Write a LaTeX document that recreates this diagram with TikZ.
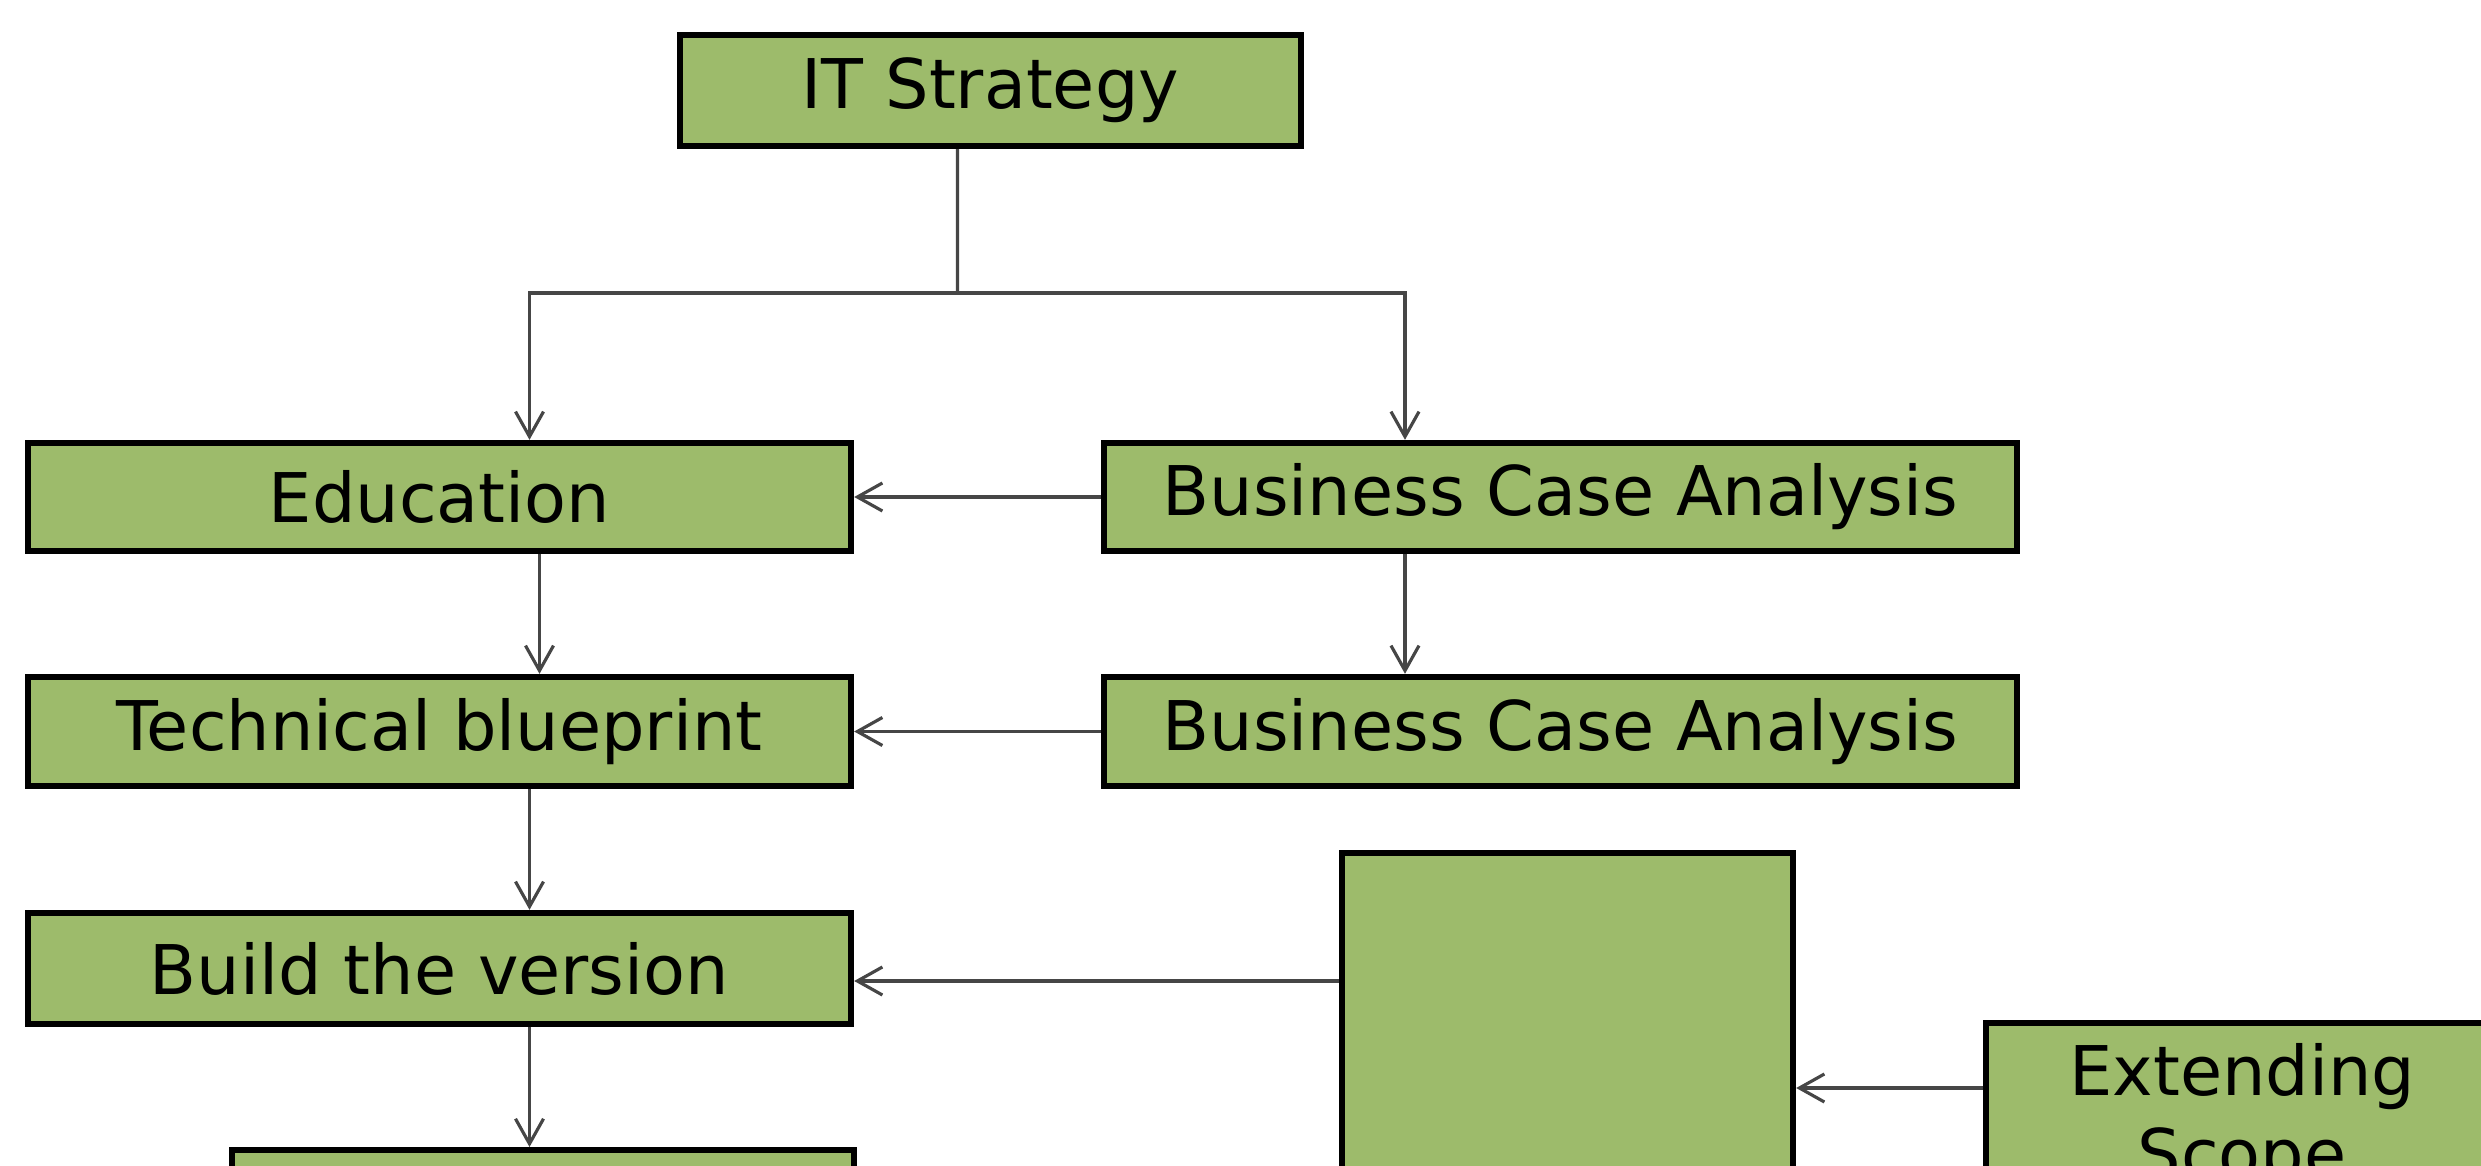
\documentclass[tikz,border=0pt]{standalone}
\usepackage{fontspec}
\setmainfont{DejaVu Sans}
\usetikzlibrary{arrows.meta}
\definecolor{boxgreen}{RGB}{157,187,107}
\definecolor{linkgray}{RGB}{70,70,70}

\begin{document}
\begin{tikzpicture}[
    box/.style={draw=black, line width=1.8pt, fill=boxgreen, inner sep=0pt,
                font=\fontsize{19.5}{23.6}\selectfont, align=center},
    plain/.style={draw=linkgray, line width=0.9pt},
    link/.style={plain, -{Straight Barb[length=2.5mm,width=2.8mm]}}
]
    % Page frame
    \useasboundingbox (0,0) rectangle (24.81,-11.66);
    \clip (0,0) rectangle (24.81,-11.66);

    % Top level
    \node[box, minimum width=6.21cm, minimum height=1.11cm] (it) at (9.905,-0.905) {IT Strategy};

    % Left column
    \node[box, minimum width=8.23cm, minimum height=1.08cm] (edu) at (4.395,-4.97) {Education};
    \node[box, minimum width=8.23cm, minimum height=1.09cm] (tb) at (4.395,-7.315) {Technical blueprint};
    \node[box, minimum width=8.23cm, minimum height=1.11cm] (build) at (4.395,-9.685) {Build the version};
    \node[box, minimum width=6.22cm, minimum height=1.1cm, anchor=north west] (last) at (2.29,-11.47) {};

    % Right column
    \node[box, minimum width=9.13cm, minimum height=1.08cm] (bca1) at (15.605,-4.97) {Business Case Analysis};
    \node[box, minimum width=9.13cm, minimum height=1.09cm] (bca2) at (15.605,-7.315) {Business Case Analysis};
    \node[box, minimum width=4.51cm, minimum height=5.5cm, anchor=north] (big) at (15.675,-8.5) {};
    \node[box, minimum width=5.12cm, inner ysep=2mm, anchor=north west] (ext) at (19.83,-10.2) {Extending\\Scope};

    % Split below the strategy
    \coordinate (fork) at (9.575,-2.93);
    \draw[plain] ([xshift=-3.3mm]it.south) -- (fork);
    \draw[link] (fork) -| ([xshift=9mm]edu.north);
    \draw[link] (fork) -| ([xshift=-15.55mm]bca1.north);

    % Downward steps
    \foreach \a/\b/\s in {edu/tb/10mm, tb/build/9mm, build/last/9mm} {
        \path ([xshift=\s]\a.south) coordinate (top);
        \draw[link] (top) -- (top |- \b.north);
    }
    \draw[link] ([xshift=-15.55mm]bca1.south) -- ([xshift=-15.55mm]bca2.north);

    % Feeds from the right
    \foreach \a/\b in {bca1/edu, bca2/tb} {
        \draw[link] (\a.west) -- (\b.east);
    }
    \coordinate (buildIn) at ([yshift=-1.25mm]build.east);
    \draw[link] (big.west |- buildIn) -- (buildIn);
    \coordinate (extOut) at ([yshift=-6.8mm]ext.north west);
    \draw[link] (extOut) -- (extOut -| big.east);
\end{tikzpicture}
\end{document}
